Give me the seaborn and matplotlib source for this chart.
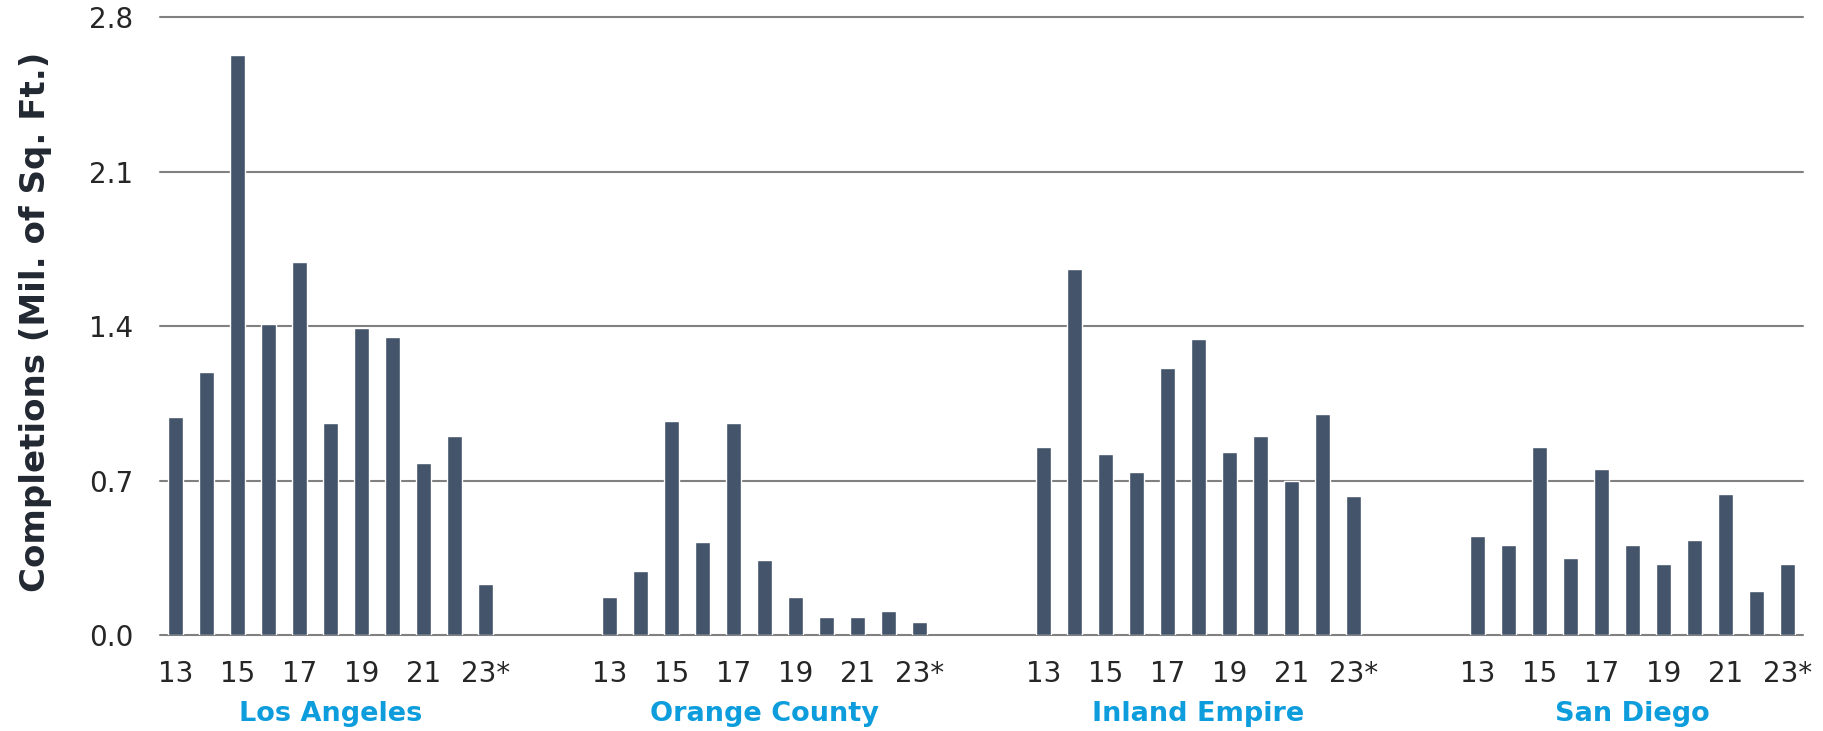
import matplotlib
matplotlib.use("Agg")
import matplotlib.pyplot as plt
import matplotlib.transforms as mtransforms
import numpy as np
import pandas as pd
import seaborn as sns

# Annual industrial completions (million sq. ft.) by market
years = ["13", "14", "15", "16", "17", "18", "19", "20", "21", "22", "23*"]
markets = ["Los Angeles", "Orange County", "Inland Empire", "San Diego"]
los_angeles = [0.99, 1.19, 2.63, 1.41, 1.69, 0.96, 1.39, 1.35, 0.78, 0.90, 0.23]
orange_county = [0.17, 0.29, 0.97, 0.42, 0.96, 0.34, 0.17, 0.08, 0.08, 0.11, 0.06]
inland_empire = [0.85, 1.66, 0.82, 0.74, 1.21, 1.34, 0.83, 0.90, 0.70, 1.00, 0.63]
san_diego = [0.45, 0.41, 0.85, 0.35, 0.75, 0.41, 0.32, 0.43, 0.64, 0.20, 0.32]
y_ticks = [0.0, 0.7, 1.4, 2.1, 2.8]

series = [los_angeles, orange_county, inland_empire, san_diego]

BAR = "#44546A"
GRID = "#808080"
BLUE = "#0E9DDC"
TEXT = "#262626"
GROUP_STRIDE = len(years) + 3  # blank slots between markets

rows = []
for g, (name, vals) in enumerate(zip(markets, series)):
    for i, (yr, v) in enumerate(zip(years, vals)):
        rows.append({"market": name, "year": yr, "pos": g * GROUP_STRIDE + i, "value": v})
df = pd.DataFrame(rows)

sns.set_theme(style="white")
plt.rcParams["font.family"] = ["DejaVu Sans"]

fig = plt.figure(figsize=(18.24, 7.31), dpi=100)
ax = fig.add_axes([0.0877, 0.1313, 0.9008, 0.8454])

sns.barplot(data=df, x="pos", y="value", native_scale=True, width=0.5,
            color=BAR, saturation=1, errorbar=None, ax=ax)

n_slots = GROUP_STRIDE * (len(markets) - 1) + len(years)
ax.set_xlim(-0.5, n_slots - 0.5)
ax.set_ylim(0, 2.8)

# Year ticks: every other year within each market
tick_pos, tick_lab = [], []
for g in range(len(markets)):
    for i in range(0, len(years), 2):
        tick_pos.append(g * GROUP_STRIDE + i)
        tick_lab.append(years[i])
ax.set_xticks(tick_pos, tick_lab)
ax.set_yticks(y_ticks, [f"{t:.1f}" for t in y_ticks])
ax.tick_params(axis="both", length=0, labelsize=20, labelcolor=TEXT)
ax.tick_params(axis="x", pad=18)
ax.tick_params(axis="y", pad=19)

ax.set_xlabel("")
ax.set_ylabel("")
for s in ax.spines.values():
    s.set_visible(False)

ax.set_axisbelow(True)
ax.yaxis.grid(True, color=GRID, linewidth=1.5)
ax.xaxis.grid(False)
for gl in ax.get_ygridlines():
    gl.set_clip_on(False)

# Market names centred beneath each group of bars
trans = mtransforms.blended_transform_factory(ax.transData, fig.transFigure)
for g, name in enumerate(markets):
    center = g * GROUP_STRIDE + (len(years) - 1) / 2
    ax.text(center, 0.0137, name, transform=trans, ha="center", va="baseline",
            fontsize=19.5, fontweight="bold", color=BLUE)

fig.text(0.0197, 0.56, "Completions (Mil. of Sq. Ft.)", rotation=90,
         ha="center", va="center", fontsize=24.5, fontweight="bold",
         color="#222831")

fig.savefig("out.png", dpi=100, facecolor="white")
